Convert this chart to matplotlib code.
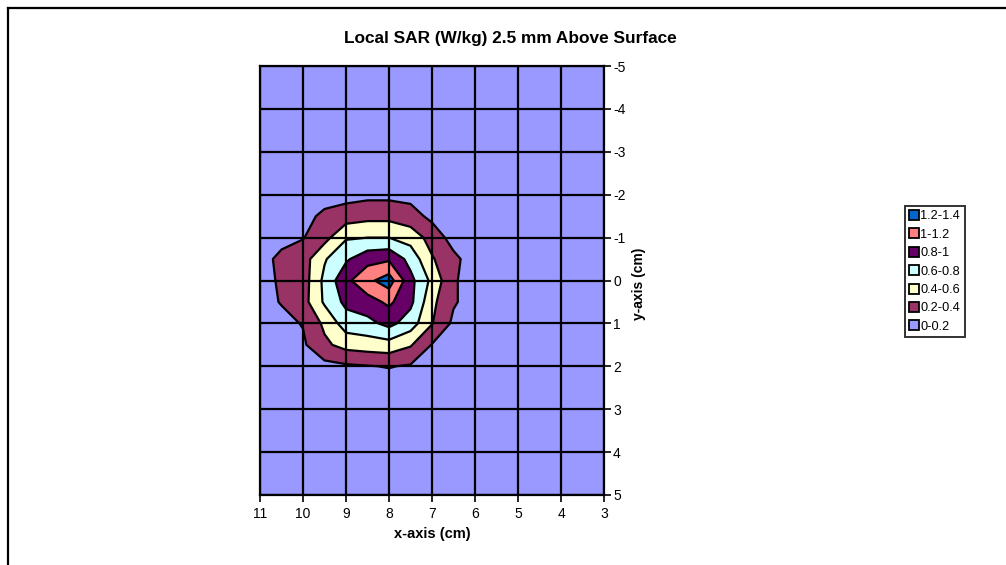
import numpy as np
import matplotlib
matplotlib.use('Agg')
import matplotlib.pyplot as plt
from matplotlib.lines import Line2D

plt.rcParams['font.family'] = ['Liberation Sans', 'DejaVu Sans']
plt.rcParams['axes.unicode_minus'] = False

x_cm = [11, 10.5, 10, 9.5, 9, 8.5, 8, 7.5, 7, 6.5, 6, 5.5, 5, 4.5, 4, 3.5, 3]
y_cm = [-5, -4.5, -4, -3.5, -3, -2.5, -2, -1.5, -1, -0.5, 0,
        0.5, 1, 1.5, 2, 2.5, 3, 3.5, 4, 4.5, 5]

sar = [
    [0.02, 0.02, 0.02, 0.02, 0.02, 0.02, 0.02, 0.02, 0.02, 0.02, 0.02, 0.02, 0.02, 0.02, 0.02, 0.02, 0.02],
    [0.02, 0.02, 0.02, 0.02, 0.02, 0.02, 0.02, 0.02, 0.02, 0.02, 0.02, 0.02, 0.02, 0.02, 0.02, 0.02, 0.02],
    [0.02, 0.02, 0.03, 0.03, 0.03, 0.03, 0.03, 0.03, 0.03, 0.03, 0.02, 0.02, 0.02, 0.02, 0.02, 0.02, 0.02],
    [0.03, 0.03, 0.03, 0.04, 0.04, 0.04, 0.04, 0.04, 0.04, 0.03, 0.03, 0.02, 0.02, 0.02, 0.02, 0.02, 0.02],
    [0.03, 0.03, 0.04, 0.05, 0.05, 0.06, 0.06, 0.05, 0.05, 0.04, 0.03, 0.03, 0.02, 0.02, 0.02, 0.02, 0.02],
    [0.04, 0.05, 0.06, 0.08, 0.09, 0.10, 0.10, 0.09, 0.07, 0.05, 0.04, 0.03, 0.03, 0.02, 0.02, 0.02, 0.02],
    [0.05, 0.07, 0.10, 0.12, 0.13, 0.15, 0.15, 0.14, 0.10, 0.07, 0.05, 0.04, 0.03, 0.03, 0.02, 0.02, 0.02],
    [0.08, 0.10, 0.14, 0.24, 0.30, 0.34, 0.34, 0.28, 0.15, 0.10, 0.07, 0.05, 0.04, 0.03, 0.03, 0.02, 0.02],
    [0.10, 0.15, 0.19, 0.33, 0.58, 0.60, 0.60, 0.52, 0.32, 0.12, 0.08, 0.06, 0.04, 0.03, 0.03, 0.02, 0.02],
    [0.14, 0.24, 0.31, 0.58, 0.77, 0.93, 0.97, 0.73, 0.42, 0.25, 0.10, 0.07, 0.05, 0.04, 0.03, 0.03, 0.02],
    [0.15, 0.22, 0.30, 0.65, 0.95, 1.15, 1.30, 0.86, 0.55, 0.22, 0.12, 0.08, 0.05, 0.04, 0.03, 0.03, 0.02],
    [0.14, 0.21, 0.32, 0.63, 0.85, 0.92, 1.04, 0.85, 0.45, 0.22, 0.12, 0.08, 0.05, 0.04, 0.03, 0.03, 0.02],
    [0.10, 0.15, 0.21, 0.44, 0.70, 0.74, 0.86, 0.70, 0.41, 0.16, 0.10, 0.07, 0.05, 0.04, 0.03, 0.03, 0.02],
    [0.08, 0.12, 0.17, 0.36, 0.47, 0.50, 0.52, 0.42, 0.19, 0.12, 0.08, 0.06, 0.04, 0.03, 0.03, 0.02, 0.02],
    [0.06, 0.08, 0.10, 0.14, 0.17, 0.19, 0.21, 0.18, 0.12, 0.08, 0.06, 0.05, 0.04, 0.03, 0.03, 0.02, 0.02],
    [0.05, 0.06, 0.08, 0.09, 0.10, 0.10, 0.10, 0.10, 0.08, 0.06, 0.05, 0.04, 0.03, 0.03, 0.02, 0.02, 0.02],
    [0.04, 0.05, 0.06, 0.07, 0.07, 0.07, 0.07, 0.07, 0.06, 0.05, 0.04, 0.03, 0.03, 0.02, 0.02, 0.02, 0.02],
    [0.03, 0.04, 0.04, 0.05, 0.05, 0.05, 0.05, 0.05, 0.04, 0.04, 0.03, 0.03, 0.02, 0.02, 0.02, 0.02, 0.02],
    [0.03, 0.03, 0.03, 0.04, 0.04, 0.04, 0.04, 0.04, 0.03, 0.03, 0.03, 0.02, 0.02, 0.02, 0.02, 0.02, 0.02],
    [0.02, 0.02, 0.03, 0.03, 0.03, 0.03, 0.03, 0.03, 0.03, 0.02, 0.02, 0.02, 0.02, 0.02, 0.02, 0.02, 0.02],
    [0.02, 0.02, 0.02, 0.02, 0.02, 0.02, 0.02, 0.02, 0.02, 0.02, 0.02, 0.02, 0.02, 0.02, 0.02, 0.02, 0.02],
]

levels = [0, 0.2, 0.4, 0.6, 0.8, 1.0, 1.2, 1.4]
band_labels = ['0-0.2', '0.2-0.4', '0.4-0.6', '0.6-0.8', '0.8-1', '1-1.2', '1.2-1.4']
band_colors = ['#9999FF', '#993366', '#FFFFCC', '#CCFFFF', '#660066', '#FF8080', '#0066CC']

fig = plt.figure(figsize=(10.06, 5.65), dpi=100)
ax = fig.add_axes([260 / 1006, 70 / 565, 344 / 1006, 429 / 565])

X, Y = np.meshgrid(x_cm, y_cm)
Z = np.array(sar)
ax.contourf(X, Y, Z, levels=levels, colors=band_colors)
ax.contour(X, Y, Z, levels=levels[1:-1], colors='black', linewidths=1.6)

ax.set_xlim(11, 3)
ax.set_ylim(5, -5)
ax.set_xticks(range(3, 12))
ax.set_yticks(range(-5, 6))
ax.grid(True, color='black', linewidth=1.6)
ax.set_axisbelow(False)
for s in ax.spines.values():
    s.set_linewidth(1.6)

ax.yaxis.tick_right()
ax.yaxis.set_label_position('right')
ax.tick_params(axis='both', direction='out', length=5, width=1.2, labelsize=10, pad=1.5)
ax.tick_params(axis='x', pad=4)
ax.set_xlabel('x-axis (cm)', fontsize=10.5, fontweight='bold', labelpad=4)
ax.set_ylabel('y-axis (cm)', fontsize=10, fontweight='bold')
ax.yaxis.set_label_coords(1.08, 0.492)

fig.text(510 / 1006, 1 - 38 / 565, 'Local SAR (W/kg) 2.5 mm Above Surface',
         ha='center', va='center', fontsize=12.4, fontweight='bold')

# Legend, highest band first
handles = [Line2D([], [], linestyle='none', marker='s', markersize=6.5,
                  markerfacecolor=c, markeredgecolor='black', markeredgewidth=1.3)
           for c in band_colors[::-1]]
leg = fig.legend(handles, band_labels[::-1], loc='upper left',
                 bbox_to_anchor=(905 / 1006, 1 - 206 / 565), fontsize=9.2,
                 frameon=True, fancybox=False, handlelength=0.7, handletextpad=0.15,
                 borderpad=0.35, labelspacing=0.5, borderaxespad=0)
leg.get_frame().set_edgecolor('black')
leg.get_frame().set_linewidth(1.4)

# Chart area border (top and left edges are visible)
fig.add_artist(Line2D([8 / 1006, 8 / 1006], [0, 1 - 8 / 565], transform=fig.transFigure,
                      color='black', linewidth=1.6))
fig.add_artist(Line2D([8 / 1006, 1], [1 - 8 / 565, 1 - 8 / 565], transform=fig.transFigure,
                      color='black', linewidth=1.6))

fig.savefig('out.png', dpi=100)
